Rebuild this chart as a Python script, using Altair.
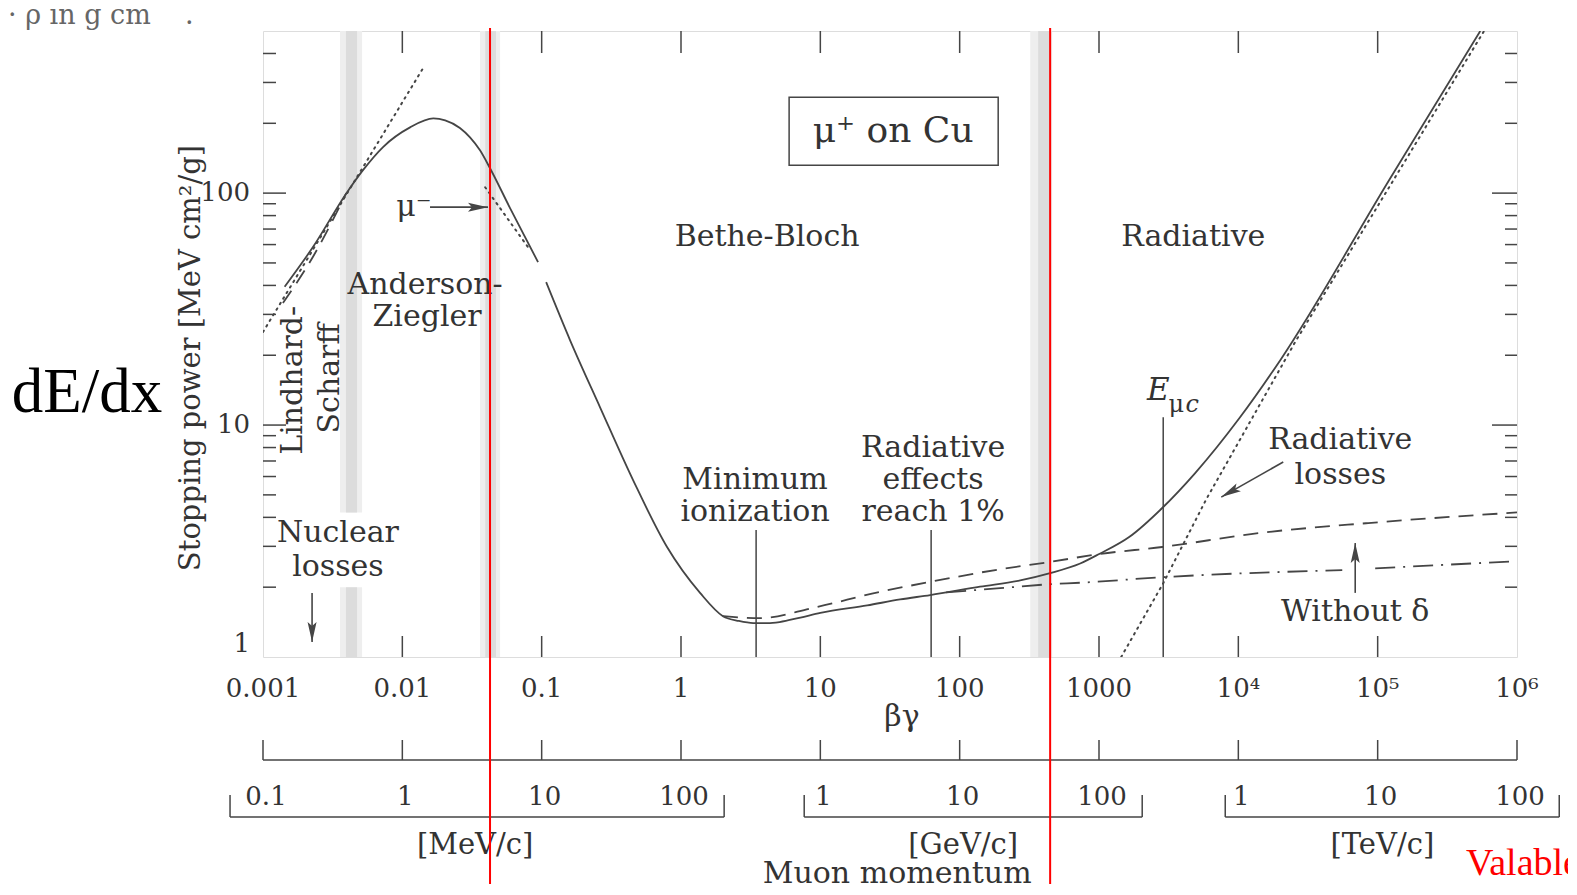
import altair as alt
import pandas as pd

W, H = 1254, 626
INK = "#454545"
TXT = "#333333"
SERIF = "DejaVu Serif"

# ---------------- values ----------------
# total stopping power, low-energy (ICRU) branch
ion_low_bg = [0.00143, 0.00229, 0.00396, 0.00522, 0.00727, 0.01136, 0.0167, 0.0203, 0.0259, 0.0306, 0.0361,
              0.0426, 0.0593, 0.0942]
ion_low_dedx = [39.5, 58.7, 99.7, 125.6, 158, 192, 210, 206, 191, 174, 153, 128, 86.2, 50.4]
# total stopping power, Bethe-Bloch + radiative branch
bethe_bg = [0.1077, 0.16, 0.262, 0.453, 0.794, 1.37, 2.0, 2.6, 3.3, 4.2, 5.1, 7.2, 10.0, 21.7, 37.4,
            61.4, 140, 272, 446, 733, 1003, 1646, 2843, 4900, 10160, 20000, 121000, 545000]
bethe_dedx = [41.3, 23.2, 11.96, 5.79, 2.98, 1.89, 1.50, 1.43, 1.40, 1.40, 1.415, 1.48, 1.55, 1.67, 1.77,
              1.85, 2.01, 2.14, 2.30, 2.53, 2.78, 3.29, 4.39, 6.21, 10.7, 19.05, 114, 500]
# dotted: Lindhard-Scharff, mu-minus, radiative losses
lindhard_dot_bg = [0.001, 0.0141]
lindhard_dot_dedx = [25.2, 346]
mu_minus_bg = [0.0393, 0.0593, 0.0798]
mu_minus_dedx = [106, 75, 58.5]
radiative_bg = [1443, 2890, 5900, 26000, 580000]
radiative_dedx = [1.0, 2.08, 4.8, 23.2, 500]
# dashed: low-energy Lindhard curve, and ionization with delta rays
lindhard_dash_bg = [0.00139, 0.00229, 0.00396]
lindhard_dash_dedx = [33.6, 53.3, 100]
with_delta_bg = [2.0, 3.7, 8.9, 26.9, 64.5, 195, 446, 1003, 2843, 13900, 85500, 1e6]
with_delta_dedx = [1.50, 1.47, 1.63, 1.91, 2.12, 2.39, 2.57, 2.78, 2.98, 3.42, 3.78, 4.2]
# dash-dot: without delta rays (two pieces, broken at the arrow)
without_delta_bg_a = [80, 195, 446, 733, 2890, 55700]
without_delta_dedx_a = [1.90, 1.98, 2.06, 2.09, 2.21, 2.37]
without_delta_bg_b = [96000, 1e6]
without_delta_dedx_b = [2.41, 2.59]

# axes
x_tick_values = [0.001, 0.01, 0.1, 1, 10, 100, 1000, 1e4, 1e5, 1e6]
x_tick_labels = ["0.001", "0.01", "0.1", "1", "10", "100", "1000", "10⁴", "10⁵", "10⁶"]
x_inner_ticks = x_tick_values[1:-1]
x_title = "βγ"
y_tick_values = [1, 10, 100]
y_tick_labels = ["1", "10", "100"]
y_major_ticks = [10, 100]
y_minor_ticks = [2, 3, 4, 5, 6, 7, 8, 9, 20, 30, 40, 50, 60, 70, 80, 90, 200, 300, 400]
y_title = "Stopping power [MeV cm²/g]"

# muon momentum scale
momentum_tick_bg = x_tick_values
momentum_labels = ["0.1", "1", "10", "100", "1", "10", "100", "1", "10", "100"]
bracket_left_bg = [5.8e-4, 7.66, 8054]
bracket_right_bg = [2.04, 2042, 2.01e6]
unit_labels = ["[MeV/c]", "[GeV/c]", "[TeV/c]"]
unit_label_bg = [0.0333, 106, 1.08e5]

# gray boundary bands (outer / inner)
band_left = [0.00357, 0.00357, 0.0361, 321]
band_right = [0.00514, 0.00514, 0.0503, 461]
band_low = [4.2, 1, 1, 1]
band_high = [500, 2.0, 500, 500]
band_in_left = [0.00394, 0.00394, 0.0394, 366]
band_in_right = [0.00473, 0.00473, 0.0470, 446]

# marker lines (min ionization, radiative 1%, E_muc)
marker_bg = [3.46, 62.4, 2890]
marker_top = [3.53, 3.53, 10.8]

# arrows
arrow_x0 = [0.00225, 0.0158, 21000, 69000]
arrow_y0 = [1.89, 87.0, 6.93, 1.89]
arrow_x1 = [0.00225, 0.0412, 7540, 69000]
arrow_y1 = [1.16, 87.0, 4.89, 3.10]
arrow_angle = [180, 90, 240.6, 0]

# labels inside the plot
annot_text = ["Bethe-Bloch", "Radiative", "Anderson-", "Ziegler", "Lindhard-", "Scharff", "Nuclear", "losses",
              "μ⁻", "μ⁺ on Cu", "Minimum", "ionization", "Radiative", "effects", "reach 1%",
              "Radiative", "losses", "Without δ", "μ"]
annot_bg = [4.15, 4745, 0.01456, 0.01504, 0.00164, 0.00303, 0.00345, 0.00345,
            0.0121, 33.3, 3.40, 3.40, 64.5, 64.5, 64.5, 53900, 53900, 69000, 3581]
annot_dedx = [64.6, 64.6, 40.1, 29.2, 15.6, 15.9, 3.42, 2.44,
              87.0, 185, 5.79, 4.22, 7.96, 5.79, 4.22, 8.62, 6.09, 1.56, 12.2]
annot_size = [30, 30, 30, 30, 30, 30, 30, 30, 30, 36, 30, 30, 30, 30, 30, 30, 30, 30, 24]
annot_angle = [0, 0, 0, 0, 270, 270, 0, 0, 0, 0, 0, 0, 0, 0, 0, 0, 0, 0, 0]
italic_text = ["E", "c"]
italic_bg = [2661, 4667]
italic_dedx = [14.0, 12.2]
italic_size = [31, 24]

box_bg = [5.97, 189]
box_dedx = [132, 259]

red_line_bg = [0.0426, 446]

# ---------------- chart ----------------
xs = alt.Scale(type="log", domain=[0.001, 1e6], nice=False)
ys = alt.Scale(type="log", domain=[1, 500], nice=False)


def X(f):
    return alt.X(f, type="quantitative", scale=xs, axis=None)


def Y(f):
    return alt.Y(f, type="quantitative", scale=ys, axis=None)


def series(pairs):
    rows = []
    for seg, (bx, dy) in enumerate(pairs):
        for i, (a, b) in enumerate(zip(bx, dy)):
            rows.append({"bg": a, "dedx": b, "seg": seg, "i": i})
    return pd.DataFrame(rows)


solid_df = series([(ion_low_bg, ion_low_dedx), (bethe_bg, bethe_dedx)])
dotted_df = series([(lindhard_dot_bg, lindhard_dot_dedx), (mu_minus_bg, mu_minus_dedx), (radiative_bg, radiative_dedx)])
dashed_df = series([(lindhard_dash_bg, lindhard_dash_dedx), (with_delta_bg, with_delta_dedx)])
dashdot_df = series([(without_delta_bg_a, without_delta_dedx_a), (without_delta_bg_b, without_delta_dedx_b)])

bands_outer = pd.DataFrame({"l": band_left, "r": band_right, "lo": band_low, "hi": band_high})
bands_inner = pd.DataFrame({"l": band_in_left, "r": band_in_right, "lo": band_low, "hi": band_high})

layers = []
layers.append(alt.Chart(bands_outer).mark_rect(color="#eeeeee", clip=True).encode(
    x=X("l"), x2="r", y=Y("lo"), y2="hi"))
layers.append(alt.Chart(bands_inner).mark_rect(color="#dcdcdc", clip=True).encode(
    x=X("l"), x2="r", y=Y("lo"), y2="hi"))

layers.append(alt.Chart(solid_df).mark_line(color=INK, strokeWidth=1.8, clip=True, interpolate="monotone").encode(
    x=X("bg"), y=Y("dedx"), detail="seg:N"))
layers.append(alt.Chart(dotted_df).mark_line(color=INK, strokeWidth=2, strokeDash=[1.5, 5], strokeCap="round",
                                             clip=True).encode(x=X("bg"), y=Y("dedx"), detail="seg:N"))
layers.append(alt.Chart(dashed_df).mark_line(color=INK, strokeWidth=1.8, strokeDash=[15, 9], clip=True,
                                             interpolate="monotone").encode(x=X("bg"), y=Y("dedx"), detail="seg:N"))
layers.append(alt.Chart(dashdot_df).mark_line(color=INK, strokeWidth=1.8, strokeDash=[20, 8, 2, 8], clip=True,
                                              interpolate="monotone").encode(x=X("bg"), y=Y("dedx"), detail="seg:N"))

# inward ticks
xt = pd.DataFrame({"v": x_inner_ticks})
layers.append(alt.Chart(xt).mark_rule(color=INK, strokeWidth=1.5).encode(x=X("v"), y=alt.value(0), y2=alt.value(22)))
layers.append(alt.Chart(xt).mark_rule(color=INK, strokeWidth=1.5).encode(x=X("v"), y=alt.value(H - 21), y2=alt.value(H)))
ymin = pd.DataFrame({"v": y_minor_ticks})
ymaj = pd.DataFrame({"v": y_major_ticks})
layers.append(alt.Chart(ymin).mark_rule(color=INK, strokeWidth=1.5).encode(y=Y("v"), x=alt.value(0), x2=alt.value(13)))
layers.append(alt.Chart(ymaj).mark_rule(color=INK, strokeWidth=1.5).encode(y=Y("v"), x=alt.value(0), x2=alt.value(23)))
layers.append(alt.Chart(ymin).mark_rule(color=INK, strokeWidth=1.5).encode(y=Y("v"), x=alt.value(W - 12), x2=alt.value(W)))
layers.append(alt.Chart(ymaj).mark_rule(color=INK, strokeWidth=1.5).encode(y=Y("v"), x=alt.value(W - 25), x2=alt.value(W)))

# tick labels and axis titles
xl = pd.DataFrame({"v": x_tick_values, "t": x_tick_labels})
layers.append(alt.Chart(xl).mark_text(font=SERIF, fontSize=26, color=TXT, baseline="middle").encode(
    x=X("v"), y=alt.value(H + 32), text="t:N"))
yl = pd.DataFrame({"v": y_tick_values, "t": y_tick_labels})
layers.append(alt.Chart(yl[yl.v > 1]).mark_text(font=SERIF, fontSize=26, color=TXT, align="right",
                                                baseline="middle").encode(
    y=Y("v"), x=alt.value(-13), text="t:N"))
layers.append(alt.Chart(yl[yl.v == 1]).mark_text(font=SERIF, fontSize=26, color=TXT, align="right",
                                                 baseline="bottom").encode(
    y=Y("v"), x=alt.value(-13), text="t:N"))
layers.append(alt.Chart(pd.DataFrame({"t": [y_title]})).mark_text(
    font=SERIF, fontSize=29, color=TXT, angle=270, baseline="middle").encode(
    x=alt.value(-72), y=alt.value(327), text="t:N"))
layers.append(alt.Chart(pd.DataFrame({"t": [x_title]})).mark_text(
    font=SERIF, fontSize=30, color=TXT, baseline="middle").encode(
    x=alt.value(639), y=alt.value(H + 60), text="t:N"))

# marker lines
mk = pd.DataFrame({"bg": marker_bg, "top": marker_top})
layers.append(alt.Chart(mk).mark_rule(color=INK, strokeWidth=1.5).encode(x=X("bg"), y=Y("top"), y2=alt.value(H)))

# arrows
ar = pd.DataFrame({"x0": arrow_x0, "y0": arrow_y0, "x1": arrow_x1, "y1": arrow_y1, "ang": arrow_angle})
layers.append(alt.Chart(ar).mark_rule(color=INK, strokeWidth=1.6).encode(x=X("x0"), x2="x1", y=Y("y0"), y2="y1"))
layers.append(alt.Chart(ar).mark_point(shape="M0,0 L0.45,2 L0,1.6 L-0.45,2 Z", filled=True, size=400,
                                       opacity=1, color=INK).encode(
    x=X("x1"), y=Y("y1"), angle=alt.Angle("ang:Q", scale=None)))

# boxed label
bx = pd.DataFrame({"l": [box_bg[0]], "r": [box_bg[1]], "lo": [box_dedx[0]], "hi": [box_dedx[1]]})
layers.append(alt.Chart(bx).mark_rect(fillOpacity=0, stroke=INK, strokeWidth=1.5).encode(
    x=X("l"), x2="r", y=Y("lo"), y2="hi"))

# labels
an = pd.DataFrame({"t": annot_text, "bg": annot_bg, "dedx": annot_dedx, "fs": annot_size, "ang": annot_angle})
layers.append(alt.Chart(an).mark_text(font=SERIF, color=TXT, align="center", baseline="middle").encode(
    x=X("bg"), y=Y("dedx"), text="t:N", size=alt.Size("fs:Q", scale=None), angle=alt.Angle("ang:Q", scale=None)))
it = pd.DataFrame({"t": italic_text, "bg": italic_bg, "dedx": italic_dedx, "fs": italic_size})
layers.append(alt.Chart(it).mark_text(font=SERIF, fontStyle="italic", color=TXT, align="center", baseline="middle").encode(
    x=X("bg"), y=Y("dedx"), text="t:N", size=alt.Size("fs:Q", scale=None)))

# muon momentum scale below
mt = pd.DataFrame({"v": momentum_tick_bg})
layers.append(alt.Chart(pd.DataFrame({"a": [momentum_tick_bg[0]], "b": [momentum_tick_bg[-1]]})).mark_rule(
    color=INK, strokeWidth=1.5).encode(x=X("a"), x2="b", y=alt.value(729)))
layers.append(alt.Chart(mt).mark_rule(color=INK, strokeWidth=1.5).encode(x=X("v"), y=alt.value(709), y2=alt.value(729)))
ml = pd.DataFrame({"v": momentum_tick_bg, "t": momentum_labels})
layers.append(alt.Chart(ml).mark_text(font=SERIF, fontSize=26, color=TXT, dx=3, baseline="middle").encode(
    x=X("v"), y=alt.value(766), text="t:N"))
br = pd.DataFrame({"l": bracket_left_bg, "r": bracket_right_bg})
layers.append(alt.Chart(br).mark_rule(color=INK, strokeWidth=1.5).encode(x=X("l"), x2="r", y=alt.value(786)))
layers.append(alt.Chart(br).mark_rule(color=INK, strokeWidth=1.5).encode(x=X("l"), y=alt.value(764), y2=alt.value(786)))
layers.append(alt.Chart(br).mark_rule(color=INK, strokeWidth=1.5).encode(x=X("r"), y=alt.value(764), y2=alt.value(786)))
ul = pd.DataFrame({"v": unit_label_bg, "t": unit_labels})
layers.append(alt.Chart(ul).mark_text(font=SERIF, fontSize=29, color=TXT, baseline="middle").encode(
    x=X("v"), y=alt.value(814), text="t:N"))
layers.append(alt.Chart(pd.DataFrame({"v": [35.6], "t": ["Muon momentum"]})).mark_text(
    font=SERIF, fontSize=30, color=TXT, baseline="middle").encode(x=X("v"), y=alt.value(843), text="t:N"))

# page annotations
layers.append(alt.Chart(pd.DataFrame({"t": ["dE/dx"]})).mark_text(
    font="Liberation Serif", fontSize=63, color="#000000", baseline="middle").encode(
    x=alt.value(-176), y=alt.value(362), text="t:N"))
layers.append(alt.Chart(pd.DataFrame({"t": ["Valable"]})).mark_text(
    font="Liberation Serif", fontSize=38, color="#ff0000", align="left", baseline="middle").encode(
    x=alt.value(1203), y=alt.value(833), text="t:N"))
layers.append(alt.Chart(pd.DataFrame({"t": ["· ρ in g cm", "."], "px": [-255, -78]})).mark_text(
    font=SERIF, fontSize=27, color="#666666", align="left", baseline="alphabetic").encode(
    x=alt.X("px:Q", scale=None, axis=None), y=alt.value(-7), text="t:N"))

# red marker lines on top
layers.append(alt.Chart(pd.DataFrame({"bg": red_line_bg})).mark_rule(color="#ff0000", strokeWidth=2).encode(
    x=X("bg"), y=alt.value(-3), y2=alt.value(880)))

chart = alt.layer(*layers).properties(
    width=W, height=H,
    autosize=alt.AutoSizeParams(type="none"),
    padding={"left": 255, "top": 23, "right": 51, "bottom": 227},
).configure_view(stroke=INK, strokeWidth=1.5).configure(background="white")

chart.save("out.html", embed_options={"renderer": "svg", "actions": False})
